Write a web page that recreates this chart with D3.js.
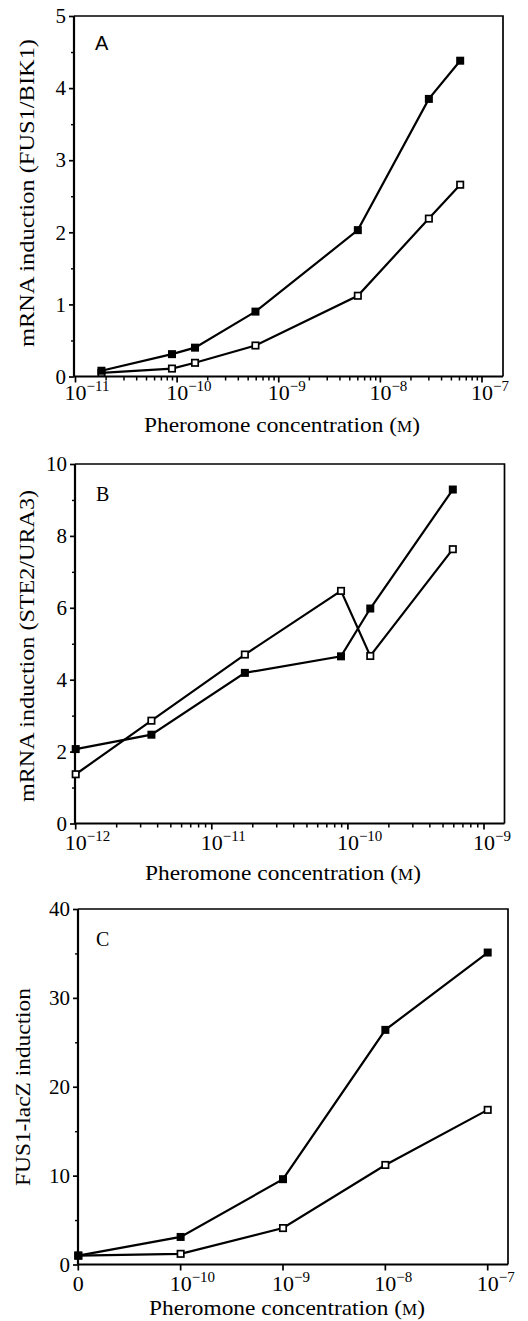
<!DOCTYPE html>
<html><head><meta charset="utf-8">
<script src="https://cdn.jsdelivr.net/npm/d3@7"></script>
<style>body{margin:0;background:#fff}svg{display:block}</style>
</head><body>
<svg id="c" width="528" height="1321"></svg>
<script>
// ---------- Panel A data ----------
const aConc   = [1.8e-11, 8.9e-11, 1.5e-10, 5.9e-10, 6.0e-9, 3.0e-8, 6.1e-8];
const aFilled = [0.08, 0.31, 0.40, 0.90, 2.03, 3.85, 4.38];
const aOpen   = [0.05, 0.11, 0.19, 0.43, 1.12, 2.19, 2.66];
const aXTicks = [1e-11, 1e-10, 1e-9, 1e-8, 1e-7];
const aXTickExp = ["−11", "−10", "−9", "−8", "−7"];
const aYTicks = [0, 1, 2, 3, 4, 5];
const aYMinor = [0.5, 1.5, 2.5, 3.5, 4.5];

// ---------- Panel B data ----------
const bConc   = [1.0e-12, 3.6e-12, 1.75e-11, 8.9e-11, 1.46e-10, 5.9e-10];
const bFilled = [2.07, 2.47, 4.19, 4.65, 5.98, 9.29];
const bOpen   = [1.37, 2.86, 4.70, 6.47, 4.66, 7.63];
const bXTicks = [1e-12, 1e-11, 1e-10, 1e-9];
const bXTickExp = ["−12", "−11", "−10", "−9"];
const bYTicks = [0, 2, 4, 6, 8, 10];
const bYMinor = [1, 3, 5, 7, 9];

// ---------- Panel C data ----------
const cConc   = [0, 1e-10, 1e-9, 1e-8, 1e-7];
const cFilled = [1.0, 3.1, 9.6, 26.4, 35.1];
const cOpen   = [1.0, 1.2, 4.1, 11.2, 17.4];
const cXTicks = [0, 1e-10, 1e-9, 1e-8, 1e-7];
const cXTickExp = [null, "−10", "−9", "−8", "−7"];
const cYTicks = [0, 10, 20, 30, 40];
const cYMinor = [5, 15, 25, 35];

const xTitle = "Pheromone concentration";
const svg = d3.select("#c");
const SERIF = "'Liberation Serif','Times New Roman',serif";
const SANS = "'Liberation Sans',Arial,sans-serif";

function drawPanel(o) {
  const g = svg.append("g");
  const nonZero = o.xTickVals.filter(v => v > 0);
  const first = o.xTickVals[0] === 0 ? o.zeroAt : o.xTickVals[0];
  const xs = d3.scaleLog().domain([first, nonZero[nonZero.length - 1]]).range(o.xRange);
  const xf = v => v === 0 ? xs(o.zeroAt) : xs(v);
  const ys = d3.scaleLinear().domain([0, o.yTicks[o.yTicks.length - 1]]).range([o.bottom, o.top]);

  // frame (top & right)
  g.append("path").attr("d", `M${o.left},${o.top}H${o.right}V${o.bottom}`)
    .attr("fill", "none").attr("stroke", "#000").attr("stroke-width", 1.7);

  // y axis
  const yAx = g.append("g").attr("transform", `translate(${o.left},0)`)
    .call(d3.axisLeft(ys).tickValues(o.yTicks).tickSize(5).tickPadding(3).tickFormat(d3.format("d")));
  yAx.select(".domain").attr("stroke-width", 2.2).attr("d", `M0,${o.bottom}V${o.top}`);
  yAx.selectAll(".tick line").attr("stroke-width", 1.7);
  yAx.selectAll("text").attr("font-family", SERIF).attr("font-size", 21).attr("fill", "#000");
  const yMin = g.append("g").attr("transform", `translate(${o.left},0)`)
    .call(d3.axisLeft(ys).tickValues(o.yMinor).tickSize(3).tickFormat(""));
  yMin.select(".domain").remove();
  yMin.selectAll(".tick line").attr("stroke-width", 1.4);

  // x axis line
  g.append("line").attr("x1", o.left).attr("x2", o.right).attr("y1", o.bottom).attr("y2", o.bottom)
    .attr("stroke", "#000").attr("stroke-width", 2.2);
  const ticksG = g.append("g");
  o.xTickVals.forEach((t, i) => {
    const px = xf(t);
    ticksG.append("line").attr("x1", px).attr("x2", px).attr("y1", o.bottom).attr("y2", o.bottom + 6)
      .attr("stroke", "#000").attr("stroke-width", 1.7);
    const txt = ticksG.append("text").attr("font-family", SERIF).attr("fill", "#000").attr("y", o.xLabelY);
    if (o.xTickExp[i] === null) {
      txt.attr("x", px).attr("text-anchor", "middle").attr("font-size", 22).text("0");
    } else {
      txt.attr("x", px - 11).attr("text-anchor", "start");
      txt.append("tspan").attr("font-size", 22).text("10");
      txt.append("tspan").attr("font-size", 15).attr("dy", -9).text(o.xTickExp[i]);
    }
  });
  // minor x ticks (log)
  if (o.xMinor) {
    const minor = [];
    for (let i = 0; i < nonZero.length - 1; i++)
      for (let k = 2; k <= 9; k++) minor.push(nonZero[i] * k);
    ticksG.selectAll(".mn").data(minor).enter().append("line")
      .attr("x1", d => xs(d)).attr("x2", d => xs(d))
      .attr("y1", o.bottom).attr("y2", o.bottom + 4)
      .attr("stroke", "#000").attr("stroke-width", 1.5);
  }

  // x title
  const xt = g.append("text").attr("x", o.xTitleX).attr("y", o.xTitleY).attr("text-anchor", "middle")
    .attr("font-family", SERIF).attr("font-size", 22).attr("fill", "#000")
    .attr("textLength", 276).attr("lengthAdjust", "spacingAndGlyphs");
  xt.append("tspan").text(xTitle + " (");
  xt.append("tspan").attr("font-size", 16).text("M");
  xt.append("tspan").text(")");

  // y title
  g.append("text").attr("transform", `translate(${o.yTitleX},${o.yTitleY}) rotate(-90)`)
    .attr("text-anchor", "middle").attr("font-family", SERIF).attr("font-size", 22).attr("fill", "#000")
    .attr("textLength", o.yTitleLen).attr("lengthAdjust", "spacingAndGlyphs").text(o.yTitle);

  // panel letter
  g.append("text").attr("x", o.labelX).attr("y", o.labelY).attr("font-family", o.labelFont)
    .attr("font-size", 20).attr("fill", "#000").text(o.label);

  // series
  const line = d3.line().x(d => xf(d[0])).y(d => ys(d[1]));
  const filledPts = o.conc.map((c, i) => [c, o.filled[i]]);
  const openPts = o.conc.map((c, i) => [c, o.open[i]]);
  [openPts, filledPts].forEach(pts => {
    g.append("path").attr("d", line(pts)).attr("fill", "none").attr("stroke", "#000").attr("stroke-width", 2.2);
  });
  const s = 8;
  g.selectAll(".fo").data(openPts).enter().append("rect")
    .attr("x", d => xf(d[0]) - s / 2 + 0.8).attr("y", d => ys(d[1]) - s / 2 + 0.8)
    .attr("width", s - 1.6).attr("height", s - 1.6).attr("fill", "#fff").attr("stroke", "#000").attr("stroke-width", 1.7);
  g.selectAll(".ff").data(filledPts).enter().append("rect")
    .attr("x", d => xf(d[0]) - s / 2).attr("y", d => ys(d[1]) - s / 2)
    .attr("width", s).attr("height", s).attr("fill", "#000");
}

drawPanel({
  conc: aConc, filled: aFilled, open: aOpen, xTickVals: aXTicks, xTickExp: aXTickExp,
  yTicks: aYTicks, yMinor: aYMinor, xMinor: true,
  left: 74, right: 503, top: 16, bottom: 376.5, xRange: [75.5, 482],
  xLabelY: 400, xTitleX: 282, xTitleY: 432,
  yTitle: "mRNA induction (FUS1/BIK1)", yTitleX: 34, yTitleY: 193, yTitleLen: 308,
  label: "A", labelX: 95, labelY: 50, labelFont: SANS
});
drawPanel({
  conc: bConc, filled: bFilled, open: bOpen, xTickVals: bXTicks, xTickExp: bXTickExp,
  yTicks: bYTicks, yMinor: bYMinor, xMinor: true,
  left: 75, right: 504.5, top: 464, bottom: 823.5, xRange: [75.7, 484],
  xLabelY: 850, xTitleX: 283, xTitleY: 880,
  yTitle: "mRNA induction (STE2/URA3)", yTitleX: 34, yTitleY: 646, yTitleLen: 312,
  label: "B", labelX: 96, labelY: 501, labelFont: SERIF
});
drawPanel({
  conc: cConc, filled: cFilled, open: cOpen, xTickVals: cXTicks, xTickExp: cXTickExp,
  zeroAt: 1e-11, yTicks: cYTicks, yMinor: cYMinor, xMinor: false,
  left: 78, right: 508, top: 909, bottom: 1264.5, xRange: [78.3, 487.7],
  xLabelY: 1291, xTitleX: 287, xTitleY: 1315,
  yTitle: "FUS1-lacZ induction", yTitleX: 30, yTitleY: 1087, yTitleLen: 198,
  label: "C", labelX: 96, labelY: 946, labelFont: SERIF
});
</script>
</body></html>
